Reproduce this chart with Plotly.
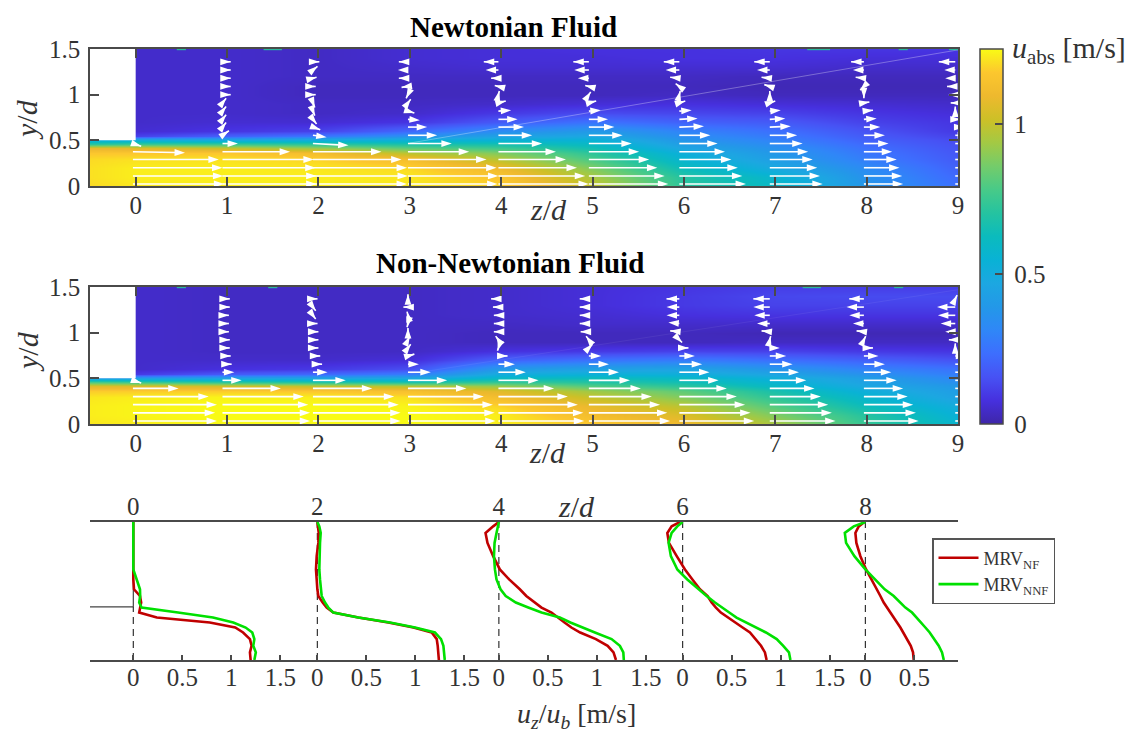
import plotly.graph_objects as go

W, H = 1128, 733
SERIF = "Liberation Serif"
INK = "#333333"
AXC = "#4a4a4a"

parula = [
    [0.0, "#3e26a8"], [0.0625, "#4630de"], [0.125, "#4752f4"], [0.1875, "#3d6efe"],
    [0.25, "#2f87f7"], [0.3125, "#2398e8"], [0.375, "#1ca7e1"], [0.4375, "#09b2d5"],
    [0.5, "#0bbbbd"], [0.5625, "#25c3a0"], [0.625, "#48ca88"], [0.6875, "#74cc6a"],
    [0.75, "#a3c944"], [0.8125, "#cdc027"], [0.875, "#eeb92e"], [0.9375, "#fcc72e"],
    [1.0, "#f9fb15"],
]

z_grid = [-0.5, 0, 1, 2, 3, 4, 5, 6, 7, 8, 9]
y_grid = [0, .1, .2, .3, .36, .42, .46, .5, .55, .6, .7, .8, .9, 1, 1.1, 1.2, 1.3, 1.4, 1.5]

# speed |u| in m/s; one list per z_grid column, bottom to top
nf_speed_cols = [
    [1.20, 1.21, 1.21, 1.20, 1.17, 1.08, .72, .52, .05, .05, .05, .05, .05, .05, .05, .05, .05, .05, .05],
    [1.22, 1.23, 1.23, 1.21, 1.17, 1.06, .75, .52, .12, .06, .05, .05, .05, .05, .05, .05, .05, .05, .05],
    [1.23, 1.23, 1.23, 1.21, 1.17, 1.00, .75, .50, .20, .09, .06, .05, .05, .05, .05, .05, .05, .05, .05],
    [1.23, 1.23, 1.22, 1.19, 1.12, .92, .72, .52, .26, .12, .06, .04, .04, .03, .03, .04, .04, .04, .04],
    [1.22, 1.22, 1.20, 1.12, .98, .82, .68, .54, .36, .22, .09, .05, .04, .03, .03, .04, .05, .06, .06],
    [1.19, 1.16, 1.10, .97, .88, .76, .66, .55, .44, .34, .18, .10, .05, .03, .03, .04, .06, .07, .07],
    [1.00, .95, .88, .78, .72, .65, .60, .55, .47, .40, .25, .14, .07, .03, .03, .04, .06, .07, .08],
    [.72, .70, .63, .56, .52, .46, .42, .38, .34, .30, .20, .13, .08, .04, .03, .04, .06, .08, .08],
    [.60, .57, .48, .42, .39, .36, .33, .30, .27, .24, .18, .12, .07, .03, .02, .03, .06, .08, .09],
    [.38, .36, .33, .28, .26, .24, .22, .20, .18, .16, .12, .09, .06, .03, .02, .03, .05, .07, .09],
    [.24, .22, .20, .18, .17, .16, .15, .14, .12, .10, .09, .07, .05, .03, .02, .03, .05, .07, .09],
]
nnf_speed_cols = [
    [1.22, 1.23, 1.23, 1.22, 1.18, 1.05, .78, .40, .05, .05, .05, .05, .05, .05, .05, .05, .05, .05, .05],
    [1.23, 1.24, 1.24, 1.23, 1.18, 1.05, .75, .42, .10, .05, .05, .05, .05, .05, .05, .05, .05, .05, .05],
    [1.25, 1.25, 1.25, 1.24, 1.18, 1.03, .72, .45, .18, .08, .05, .04, .04, .04, .04, .04, .04, .04, .04],
    [1.25, 1.25, 1.25, 1.23, 1.17, 1.00, .70, .45, .22, .10, .05, .04, .04, .04, .04, .04, .04, .04, .04],
    [1.25, 1.25, 1.24, 1.21, 1.14, .98, .68, .47, .28, .15, .07, .04, .04, .04, .04, .04, .04, .04, .04],
    [1.23, 1.23, 1.19, 1.12, 1.06, .92, .74, .60, .50, .40, .20, .08, .03, .03, .04, .05, .05, .05, .05],
    [1.17, 1.12, 1.08, 1.00, .93, .80, .70, .63, .53, .44, .25, .10, .03, .03, .05, .06, .07, .07, .07],
    [1.10, 1.05, .98, .88, .82, .72, .65, .60, .52, .45, .28, .12, .03, .03, .05, .08, .10, .10, .09],
    [.95, .88, .80, .72, .67, .60, .56, .52, .45, .38, .24, .12, .04, .02, .05, .09, .12, .13, .11],
    [.74, .70, .63, .57, .52, .47, .44, .42, .36, .30, .20, .10, .04, .02, .05, .09, .12, .14, .11],
    [.57, .54, .50, .44, .42, .39, .35, .32, .28, .25, .16, .09, .04, .02, .05, .09, .12, .14, .11],
]

# quiver columns: foot position of each arrow column, rows of arrow feet
nf_arrow_z = [-0.03, .95, 1.94, 2.98, 3.97, 4.96, 5.95, 6.94, 7.97, 8.97]
nnf_arrow_z = [-0.03, .95, 1.94, 2.98, 3.97, 4.96, 5.95, 6.94, 7.97, 8.97]
nf_arrow_y = [.022, .11, .2, .29, .375, .465, .555, .645, .73, .82, .91, 1.0, 1.09, 1.18, 1.27, 1.36]
nnf_arrow_y = [.033, .122, .212, .3, .39, .478, .567, .655, .745, .833, .922, 1.01, 1.1, 1.19, 1.28, 1.37]

nf_u = [
    [1.0, .99, .98, .94, .57, .09],
    [1.03, 1.03, 1.02, 1.0, .74, .17, .07, .04, .04, .04, .04, .09, .09, .09, .09, .09],
    [1.03, 1.04, 1.03, .97, .75, .39, .15, .08, .04, .02, .02, .03, .03, .04, .05, .07],
    [.98, .99, .97, .86, .67, .48, .32, .21, .13, .07, .03, -.02, -.07, -.10, -.11, -.10],
    [.99, .95, .86, .74, .63, .48, .37, .28, .21, .14, .08, .01, -.04, -.08, -.14, -.16],
    [.87, .83, .75, .66, .55, .47, .37, .28, .21, .13, .08, .02, -.04, -.12, -.16, -.17],
    [.73, .69, .64, .57, .50, .42, .34, .27, .20, .135, .065, .01, -.04, -.10, -.15, -.17],
    [.58, .55, .52, .47, .42, .36, .30, .23, .17, .12, .06, 0, -.06, -.09, -.14, -.17],
    [.43, .42, .39, .36, .31, .27, .23, .18, .14, .10, .06, 0, -.04, -.09, -.12, -.14],
    [.33, .30, .28, .25, .22, .18, .14, .10, .06, 0, -.05, -.07, -.09, -.11, -.12, -.18],
]
nf_v = [
    [0, 0, 0, 0, -.01, -.03],
    [0, 0, 0, 0, 0, 0, .05, .05, .05, .05, .05, 0, 0, 0, 0, 0],
    [0, 0, 0, 0, 0, -.02, -.02, -.03, -.05, -.05, -.05, 0, 0, .01, .04, 0],
    [0, 0, 0, 0, 0, 0, 0, 0, -.01, -.02, .04, -.04, -.01, 0, 0, 0],
    [0, 0, 0, 0, 0, 0, 0, 0, 0, .01, .02, .04, .01, 0, 0, 0],
    [0, 0, 0, 0, 0, 0, 0, 0, 0, .01, .02, .03, .01, 0, 0, 0],
    [0, 0, 0, 0, 0, 0, 0, .01, .01, .01, .02, .04, .03, .01, 0, 0],
    [0, 0, 0, 0, 0, 0, 0, .01, .01, .01, .02, .04, .02, .01, 0, 0],
    [0, 0, 0, 0, 0, 0, 0, 0, .01, .01, .01, -.04, -.04, .01, 0, 0],
    [0, 0, 0, 0, 0, 0, 0, 0, 0, .05, 0, 0, 0, 0, 0, 0],
]
nnf_u = [
    [.92, .90, .92, .83, .50, .09],
    [.96, .96, .94, .89, .64, .21, .13, .10, .09, .08, .08, .07, .07, .07, .08, .08],
    [.96, .96, .94, .89, .65, .36, .16, .10, .08, .06, .06, .06, .05, .03, .03, .05],
    [.96, .95, .93, .83, .64, .43, .25, .12, .07, .03, .02, 0, -.01, -.01, -.05, 0],
    [.94, .93, .87, .76, .61, .44, .30, .18, .10, -.01, -.03, -.05, -.05, -.05, -.06, -.08],
    [.89, .86, .78, .69, .57, .45, .33, .22, .135, .04, -.03, -.09, -.10, -.10, -.10, -.10],
    [.82, .78, .72, .63, .52, .43, .33, .25, .17, .10, .03, -.10, -.12, -.14, -.14, -.14],
    [.72, .68, .64, .56, .49, .40, .32, .25, .18, .11, .01, -.09, -.14, -.17, -.18, -.18],
    [.60, .57, .54, .48, .43, .36, .30, .23, .16, .10, .02, -.08, -.12, -.16, -.19, -.16],
    [.40, .38, .35, .32, .28, .24, .20, .16, .12, 0, -.07, -.11, -.16, -.19, -.20, .02],
]
nnf_v = [
    [0, 0, 0, 0, 0, -.03],
    [0, 0, 0, 0, 0, 0, 0, 0, 0, 0, 0, 0, 0, 0, 0, 0],
    [0, 0, 0, 0, 0, 0, 0, 0, 0, 0, 0, 0, 0, -.04, -.04, 0],
    [0, 0, 0, 0, 0, 0, 0, 0, .02, .04, .04, .04, -.04, .04, 0, .05],
    [0, 0, 0, 0, 0, 0, 0, 0, 0, -.03, .04, 0, 0, 0, 0, 0],
    [0, 0, 0, 0, 0, 0, 0, 0, 0, .04, .04, 0, 0, 0, 0, 0],
    [0, 0, 0, 0, 0, 0, 0, 0, 0, 0, -.03, .01, .01, 0, 0, 0],
    [0, 0, 0, 0, 0, 0, 0, 0, 0, 0, .04, .01, 0, 0, 0, 0],
    [0, 0, 0, 0, 0, 0, 0, 0, 0, 0, .04, .01, 0, 0, 0, 0],
    [0, 0, 0, 0, 0, 0, 0, 0, 0, .05, 0, 0, 0, 0, 0, .04],
]

# faint scan artefact across each field, and coloured specks on the top edge
nf_streak_z, nf_streak_y = [3.0, 9.0], [.47, 1.49]
nnf_streak_z, nnf_streak_y = [3.0, 9.0], [.55, 1.47]
nf_speck_z = [.45, .55, None, 1.4, 1.6, None, 7.35, 7.6, None, 8.35, 8.45, None, 8.9, 9.0]
nnf_speck_z = [.45, .55, None, 1.45, 1.55, None, 7.3, 7.5, None, 8.3, 8.4]

# mean velocity profiles
profile_stations = ["0", "2", "4", "6", "8"]
profile_offsets = [0, 1.878, 3.73, 5.605, 7.47]
profile_y = [0, .072, .134, .197, .259, .306, .353, .4, .447, .494, .541, .603, .666, .759, .853, .978, 1.103, 1.197, 1.259, 1.3]
mrv_nf = [
    [1.197, 1.19, 1.207, 1.19, 1.12, 1.04, .78, .24, .06, .07, .08, .068, .007, 0, 0, 0, 0, 0, 0, 0],
    [1.24, 1.235, 1.228, 1.218, 1.167, .98, .724, .418, .163, .095, .054, .01, 0, -.007, -.014, -.007, .01, .014, .01, 0],
    [1.195, 1.17, 1.11, .99, .83, .74, .67, .605, .537, .435, .367, .28, .214, .105, .01, -.058, -.116, -.136, -.058, 0],
    [.857, .84, .80, .745, .687, .612, .534, .466, .39, .34, .296, .255, .177, .10, .024, -.06, -.14, -.156, -.112, -.027],
    [.493, .486, .463, .425, .39, .357, .323, .289, .248, .214, .187, .153, .116, .061, .007, -.051, -.092, -.102, -.068, -.01],
]
mrv_nnf = [
    [1.235, 1.25, 1.224, 1.235, 1.214, 1.146, 1.02, .813, .456, .085, .06, .07, .068, .034, 0, 0, 0, 0, 0, 0],
    [1.30, 1.296, 1.286, 1.262, 1.20, .997, .741, .418, .163, .112, .078, .044, .034, .027, .02, .02, .027, .034, .02, 0],
    [1.275, 1.27, 1.235, 1.15, .98, .85, .73, .622, .435, .30, .173, .07, .017, -.024, -.04, -.05, -.044, -.024, -.01, 0],
    [1.10, 1.085, 1.027, .96, .85, .755, .653, .55, .476, .398, .33, .245, .167, .048, -.054, -.12, -.143, -.112, -.054, 0],
    [.80, .782, .748, .704, .656, .612, .568, .52, .476, .408, .357, .289, .197, .102, 0, -.112, -.197, -.21, -.119, 0],
]
u_ticks = [0, .5, 1, 1.5]
u_tick_labels = ["0", "0.5", "1", "1.5"]


def dom_x(a, b):
    return [a / W, b / W]


def dom_y(top, bot):
    return [1 - bot / H, 1 - top / H]


fig = go.Figure()


def rows(cols):
    return [list(r) for r in zip(*cols)]


def quiver(xa, ya, zs, ys, us, vs):
    X, Y, S = [], [], []
    for zc, uc, vc in zip(zs, us, vs):
        for y0, u, v in zip(ys, uc, vc):
            X += [zc, zc + u, None]
            Y += [y0, y0 + v, None]
            S += [0, 11, 0]
    fig.add_trace(go.Scatter(x=X, y=Y, xaxis=xa, yaxis=ya, mode="lines+markers", showlegend=False,
                             hoverinfo="skip", line=dict(color="white", width=1.6),
                             marker=dict(symbol="arrow", size=S, color="white", angleref="previous", opacity=1,
                                         line=dict(width=0))))


def panel(xa, ya, cols, zs, ys, us, vs, showscale, streak_z, streak_y, streak_op, speck_z):
    fig.add_trace(go.Heatmap(x=z_grid, y=y_grid, z=rows(cols), xaxis=xa, yaxis=ya, zmin=0, zmax=1.25,
                             colorscale=parula, zsmooth="best", showscale=showscale, hoverinfo="skip",
                             colorbar=dict(x=980 / W, xanchor="left",
                                           y=1 - 424 / H, yanchor="bottom", len=375 / H, lenmode="fraction",
                                           thickness=23, thicknessmode="pixels", outlinecolor=AXC, outlinewidth=1.5,
                                           tickvals=[0, .5, 1], ticktext=["\u20090", "\u20090.5", "\u20091"],
                                           ticks="inside", ticklen=8, tickwidth=1.5, tickcolor=AXC, ypad=0, xpad=0,
                                           tickfont=dict(family=SERIF, size=25, color=INK)) if showscale else None))
    fig.add_trace(go.Scatter(x=streak_z, y=streak_y, xaxis=xa, yaxis=ya, mode="lines", showlegend=False,
                             hoverinfo="skip", opacity=streak_op, line=dict(color="white", width=1)))
    fig.add_trace(go.Scatter(x=speck_z, y=[1.495 if v is not None else None for v in speck_z], xaxis=xa, yaxis=ya,
                             mode="lines", showlegend=False, hoverinfo="skip",
                             line=dict(color="#2ab8a0", width=1.5)))
    fig.add_trace(go.Scatter(x=[-.5, 0, 0, -.5, -.5], y=[.5, .5, 1.5, 1.5, .5], xaxis=xa, yaxis=ya, mode="lines",
                             fill="toself", fillcolor="white", line=dict(width=0), showlegend=False,
                             hoverinfo="skip"))
    quiver(xa, ya, zs, ys, us, vs)


panel("x", "y", nf_speed_cols, nf_arrow_z, nf_arrow_y, nf_u, nf_v, True, nf_streak_z, nf_streak_y, .3, nf_speck_z)
panel("x2", "y2", nnf_speed_cols, nnf_arrow_z, nnf_arrow_y, nnf_u, nnf_v, False, nnf_streak_z, nnf_streak_y, .06,
      nnf_speck_z)

# bottom panel
fig.add_trace(go.Scatter(x=[-.442, 0, 0], y=[.5, .5, 1.3], xaxis="x3", yaxis="y3", mode="lines", showlegend=False,
                         hoverinfo="skip", line=dict(color="#444444", width=1.2)))
for i, off in enumerate(profile_offsets):
    fig.add_trace(go.Scatter(x=[off, off], y=[0, .5 if i == 0 else 1.3], xaxis="x3", yaxis="y3", mode="lines",
                             showlegend=False, hoverinfo="skip",
                             line=dict(color="#333333", width=1.2, dash="7px,5px")))
for name, data, color in (("MRV<sub>NF</sub>", mrv_nf, "#c00000"), ("MRV<sub>NNF</sub>", mrv_nnf, "#00e000")):
    X, Y = [], []
    for off, col in zip(profile_offsets, data):
        X += [off + v for v in col] + [None]
        Y += profile_y + [None]
    fig.add_trace(go.Scatter(x=X, y=Y, xaxis="x3", yaxis="y3", mode="lines", name=name, hoverinfo="skip",
                             line=dict(color=color, width=2.6)))

tfont = dict(family=SERIF, size=25, color=INK)
z_ticks = [0, 1, 2, 3, 4, 5, 6, 7, 8, 9]
y_ticks = [0, .5, 1, 1.5]
common_x = dict(range=[-.5, 9], tickvals=z_ticks, ticks="inside", ticklen=9, tickwidth=1.5, tickcolor=AXC,
                showline=True, linecolor=AXC, linewidth=1.5, mirror="ticks", tickfont=tfont, showgrid=False,
                zeroline=False, ticklabelstandoff=-4)
common_y = dict(range=[0, 1.5], tickvals=y_ticks, ticktext=["0", "0.5", "1", "1.5"], ticks="inside", ticklen=9,
                tickwidth=1.5, tickcolor=AXC, showline=True, linecolor=AXC, linewidth=1.5, mirror="ticks",
                tickfont=tfont, showgrid=False, zeroline=False, ticklabelstandoff=3)

bx, bt = [], []
for off, st in zip(profile_offsets, profile_stations):
    for t, l in zip(u_ticks, u_tick_labels):
        if off + t <= 8.4:
            bx.append(off + t)
            bt.append(l)

fig.update_layout(
    width=W, height=H, margin=dict(l=0, r=0, t=0, b=0, autoexpand=False), paper_bgcolor="white", plot_bgcolor="white",
    font=dict(family=SERIF, color=INK),
    xaxis=dict(domain=dom_x(90, 958), anchor="y", **common_x),
    yaxis=dict(domain=dom_y(49, 186), anchor="x", **common_y),
    xaxis2=dict(domain=dom_x(90, 958), anchor="y2", **common_x),
    yaxis2=dict(domain=dom_y(287, 424), anchor="x2", **common_y),
    xaxis3=dict(domain=dom_x(90, 958), anchor="y3", range=[-.442, 8.415], tickvals=bx, ticktext=bt, ticks="inside",
                ticklen=5, tickwidth=1.5, tickcolor=AXC, showline=True, linecolor=AXC, linewidth=1.5, tickfont=tfont,
                showgrid=False, zeroline=False, ticklabelstandoff=-6),
    xaxis4=dict(domain=dom_x(90, 958), anchor="y3", overlaying="x3", side="top", range=[-.442, 8.415],
                tickvals=profile_offsets, ticktext=profile_stations, ticks="", showline=True, linecolor=AXC,
                linewidth=1.5, tickfont=tfont, showgrid=False, zeroline=False, ticklabelstandoff=-5),
    yaxis3=dict(domain=dom_y(522, 660), anchor="x3", range=[0, 1.3], showticklabels=False, ticks="", showline=False,
                showgrid=False, zeroline=False),
    legend=dict(x=932 / W, xanchor="left", y=1 - 538 / H, yanchor="top", bgcolor="white", bordercolor="#555555",
                borderwidth=1.5, font=dict(family=SERIF, size=18, color=INK), itemwidth=40, tracegroupgap=0),
)
# an invisible trace on the top axis so it is rendered
fig.add_trace(go.Scatter(x=profile_offsets, y=[1.3] * 5, xaxis="x4", yaxis="y3", mode="markers", showlegend=False,
                         hoverinfo="skip", marker=dict(size=0.1, opacity=0)))

lab = dict(family=SERIF, size=30, color=INK)
ann = [
    dict(text="<b>Newtonian Fluid</b>", x=513, y=27, font=dict(family=SERIF, size=29, color="black")),
    dict(text="<b>Non-Newtonian Fluid</b>", x=510, y=263, font=dict(family=SERIF, size=29, color="black")),
    dict(text="<i>y</i>/<i>d</i>", x=27, y=120, font=lab, textangle=-90),
    dict(text="<i>y</i>/<i>d</i>", x=27, y=352, font=lab, textangle=-90),
    dict(text="<i>z</i>/<i>d</i>", x=548, y=209, font=lab),
    dict(text="<i>z</i>/<i>d</i>", x=547, y=452, font=lab),
    dict(text="<i>z</i>/<i>d</i>", x=577, y=506, font=lab),
    dict(text="<i>u<sub>z</sub></i>/<i>u<sub>b</sub></i> [m/s]", x=577, y=715, font=dict(family=SERIF, size=28, color=INK)),
    dict(text="<i>u</i><sub>abs</sub> [m/s]", x=1069, y=50, font=lab),
]
for a in ann:
    fig.add_annotation(xref="paper", yref="paper", x=a.pop("x") / W, y=1 - a.pop("y") / H, showarrow=False,
                       xanchor="center", yanchor="middle", **a)

fig.write_html("out.html", config={"displayModeBar": False},
               post_script="document.body.style.margin='0';document.body.style.overflow='hidden';")
